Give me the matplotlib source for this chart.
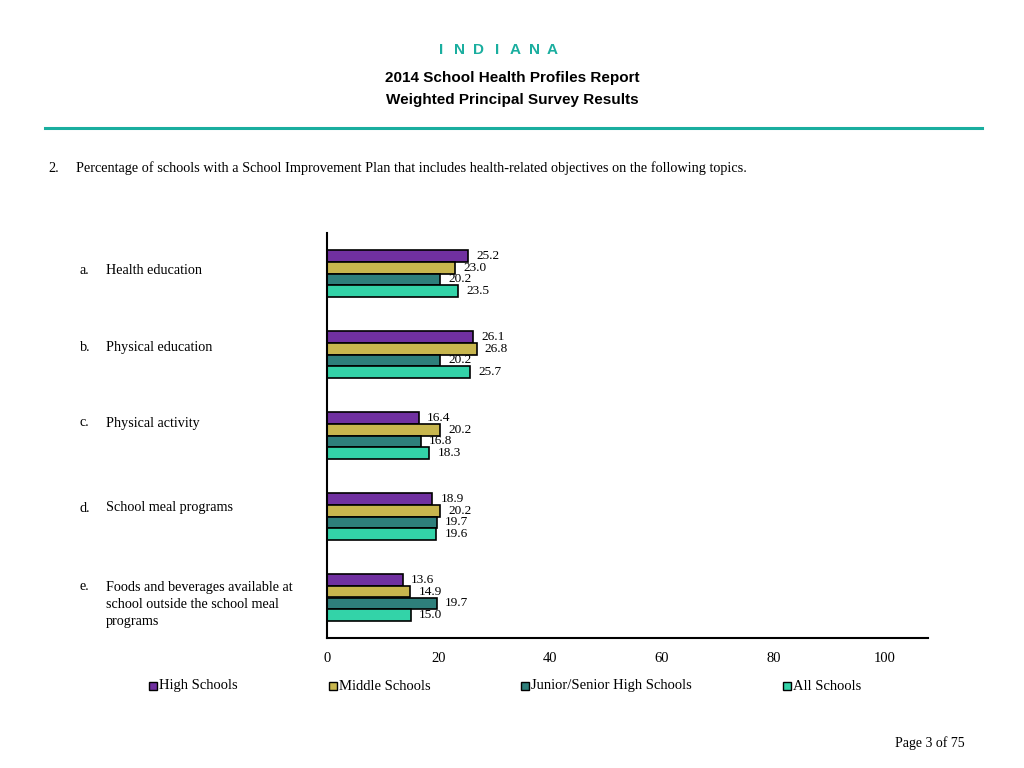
import matplotlib
matplotlib.use("Agg")
import matplotlib.pyplot as plt
from matplotlib.patches import Rectangle
import numpy as np

categories = ["Health education", "Physical education", "Physical activity",
              "School meal programs",
              "Foods and beverages available at\nschool outside the school meal\nprograms"]
letters = ["a.", "b.", "c.", "d.", "e."]
series_names = ["High Schools", "Middle Schools", "Junior/Senior High Schools", "All Schools"]
high = [25.2, 26.1, 16.4, 18.9, 13.6]
middle = [23.0, 26.8, 20.2, 20.2, 14.9]
junior = [20.2, 20.2, 16.8, 19.7, 19.7]
all_schools = [23.5, 25.7, 18.3, 19.6, 15.0]
xticks = [0, 20, 40, 60, 80, 100]
state = "INDIANA"

colors = ["#7030A0", "#C8B64E", "#2E7F7B", "#33D3A8"]
teal = "#1AAE9F"
serif = ["Liberation Serif", "DejaVu Serif"]
sans = ["Liberation Sans", "DejaVu Sans"]

W, H = 1024, 768
fig = plt.figure(figsize=(W / 100, H / 100), dpi=100)

def fx(px):
    return px / W

def fy(py):
    return 1 - py / H

# Header
for i, ch in enumerate(state):
    fig.text(fx(441 + 18.6 * i), fy(50), ch, ha="center", va="center", color=teal,
             fontsize=11, fontweight="bold", family=sans)
fig.text(0.5, fy(78), "2014 School Health Profiles Report", ha="center", va="center",
         fontsize=11, fontweight="bold", family=sans)
fig.text(0.5, fy(100), "Weighted Principal Survey Results", ha="center", va="center",
         fontsize=11, fontweight="bold", family=sans)
fig.add_artist(plt.Line2D([fx(45), fx(982)], [fy(128), fy(128)], color=teal, lw=2.2,
                          transform=fig.transFigure))
fig.text(fx(48), fy(168), "2.", ha="left", va="center", fontsize=10.25, family=serif)
fig.text(fx(76), fy(168),
         "Percentage of schools with a School Improvement Plan that includes health-related objectives on the following topics.",
         ha="left", va="center", fontsize=10.25, family=serif)
fig.text(fx(965), fy(743), "Page 3 of 75", ha="right", va="center", fontsize=10, family=serif)

# Axes
ax = fig.add_axes([fx(327), fy(638), fx(928) - fx(327), (638 - 233) / H])
data = [high, middle, junior, all_schools]
n = len(categories)
y = np.arange(n)
bh = 0.148
offsets = [-1.5 * bh, -0.5 * bh, 0.5 * bh, 1.5 * bh]
for vals, off, c in zip(data, offsets, colors):
    bars = ax.barh(y + off, vals, height=bh, color=c, edgecolor="black", linewidth=1.2)
    for b, v in zip(bars, vals):
        ax.annotate(f"{v:.1f}", (v, b.get_y() + b.get_height() / 2),
                    xytext=(6, 0), textcoords="offset points", ha="left", va="center",
                    fontsize=9.5, family=serif)

ax.set_xlim(0, 107.7)
ax.set_ylim(n - 0.5, -0.5)
ax.set_yticks([])
ax.set_xticks(xticks)
ax.set_xticklabels([str(t) for t in xticks], family=serif, fontsize=10.5)
ax.tick_params(axis="x", length=0, pad=10)
for s in ["top", "right"]:
    ax.spines[s].set_visible(False)
for s in ["left", "bottom"]:
    ax.spines[s].set_linewidth(1.5)

# Category labels
label_y = [270, 347, 423, 508, 587]
for letter, cat, ly in zip(letters, categories, label_y):
    fig.text(fx(80), fy(ly), letter, ha="left", va="center", fontsize=10.2, family=serif)
    lines = cat.split("\n")
    for k, line in enumerate(lines):
        fig.text(fx(106), fy(ly + 17.5 * k), line, ha="left", va="center",
                 fontsize=10.2, family=serif)

# Legend
leg_x = [149, 329, 521, 783]
for name, c, lx in zip(series_names, colors, leg_x):
    fig.add_artist(Rectangle((fx(lx), fy(690)), 8 / W, 8 / H, facecolor=c,
                             edgecolor="black", lw=1.0, transform=fig.transFigure))
    fig.text(fx(lx + 10), fy(686), name, ha="left", va="center", fontsize=10.5, family=serif)

fig.savefig("out.png", dpi=100)
